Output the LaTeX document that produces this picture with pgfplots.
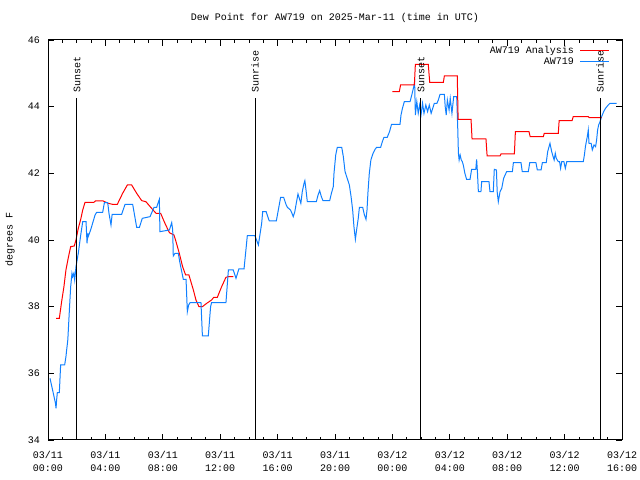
\documentclass[border=0pt]{standalone}
\usepackage{pgfplots}
\pgfplotsset{compat=1.18}
\usepackage{fontspec}
\setmainfont{Liberation Mono}
\definecolor{awred}{RGB}{255,0,0}
\definecolor{awblue}{RGB}{16,128,255}
\newcommand{\gf}{\fontsize{10bp}{13bp}\selectfont}
\begin{document}
\begin{tikzpicture}[x=1bp,y=1bp]
\path[use as bounding box] (0,0) rectangle (640,480);
\begin{axis}[
  at={(48bp,40bp)}, anchor=south west,
  scale only axis, width=574bp, height=400bp,
  xmin=0, xmax=40, ymin=34, ymax=46,
  xtick={0,4,...,40},
  xticklabels={03/11\\00:00,03/11\\04:00,03/11\\08:00,03/11\\12:00,03/11\\16:00,03/11\\20:00,03/12\\00:00,03/12\\04:00,03/12\\08:00,03/12\\12:00,03/12\\16:00},
  minor x tick num=3,
  ytick={34,36,...,46},
  tick align=inside,
  major tick length=6bp, minor tick length=3bp,
  axis line style={line width=1bp},
  every tick/.style={black, line width=0.8bp},
  /pgf/number format/assume math mode=true,
  font=\gf,
  xticklabel style={font=\gf, align=center, anchor=north, inner sep=0pt, yshift=-11bp},
  yticklabel style={font=\gf, anchor=east, inner sep=0pt, xshift=-8bp},
  title={Dew Point for AW719 on 2025-Mar-11 (time in UTC)},
  every axis title shift=0pt,
  title style={font=\gf, at={(axis description cs:0.5,1.055)}, anchor=center},
  ylabel={degrees F},
  ylabel style={font=\gf, at={(axis description cs:-0.066,0.5)}, anchor=center},
  legend style={draw=none, fill=none, font=\gf, at={(axis description cs:0.979,0.99)}, anchor=north east, inner sep=0pt, row sep=-1bp,
    /tikz/every odd column/.append style={column sep=4bp}},
  legend plot pos=right,
  legend cell align=right,
  legend image code/.code={\draw[#1] (0bp,0bp) -- (29bp,0bp);},
]
% Analysis (red), part 1
\addplot[awred, line width=1bp] coordinates {
(0.56,37.65) (0.79,37.65) (0.95,38.15) (1.11,38.6) (1.25,39.1) (1.42,39.48) (1.58,39.8) (1.83,39.82)
(1.95,40.0) (2.11,40.35) (2.28,40.62) (2.42,40.9) (2.58,41.13) (3.2,41.13) (3.3,41.17) (3.85,41.17)
(4.2,41.1) (4.5,41.07) (4.83,41.07) (5.2,41.4) (5.53,41.65) (5.83,41.65) (6.18,41.4) (6.53,41.18)
(6.82,41.15) (7.22,40.95) (7.53,40.8) (7.85,40.8) (8.15,40.5) (8.46,40.22) (8.78,40.15) (8.92,39.95)
(9.15,39.6) (9.38,39.2) (9.59,38.95) (9.82,38.95) (10.13,38.5) (10.31,38.2) (10.52,38.0) (10.76,38.0)
(11.06,38.1) (11.4,38.2) (11.55,38.28) (11.8,38.28) (12.1,38.6) (12.4,38.88) (12.57,38.9) (12.91,38.9)
};
\addlegendentry{AW719 Analysis}
% Observations (blue)
\addplot[awblue, line width=1bp] coordinates {
(0.14,35.85) (0.37,35.4) (0.52,35.1) (0.56,34.95) (0.6,35.2) (0.65,35.42) (0.79,35.42) (0.88,36.25)
(1.16,36.25) (1.25,36.5) (1.3,36.7) (1.38,37.0) (1.49,37.9) (1.58,38.6) (1.67,39.0) (1.72,38.9)
(1.8,39.0) (1.86,38.8) (1.95,39.2) (2.11,39.6) (2.28,40.15) (2.42,40.55) (2.65,40.55) (2.72,39.9)
(2.77,40.2) (2.8,40.1) (2.97,40.3) (3.28,40.75) (3.39,40.83) (3.81,40.83) (3.93,41.12) (4.16,41.12)
(4.25,40.8) (4.39,40.45) (4.47,40.77) (5.13,40.77) (5.37,41.07) (5.9,41.07) (6.18,40.38) (6.37,40.38)
(6.57,40.65) (7.11,40.7) (7.39,40.98) (7.57,40.98) (7.66,41.1) (7.76,41.22) (7.8,40.25) (8.46,40.3)
(8.62,40.52) (8.69,40.3) (8.73,39.52) (8.85,39.6) (9.08,39.6) (9.2,39.3) (9.43,38.82) (9.62,38.82)
(9.71,37.85) (9.8,38.05) (9.9,38.12) (10.66,38.12) (10.76,37.12) (11.17,37.12) (11.33,38.0) (11.4,38.12)
(12.4,38.12) (12.57,39.1) (12.91,39.1) (13.1,38.85) (13.3,39.13) (13.66,39.13) (13.89,40.13) (14.42,40.13)
(14.66,39.85) (14.89,40.5) (14.96,40.85) (15.2,40.85) (15.42,40.57) (15.91,40.57) (16.05,40.9) (16.21,41.28)
(16.42,41.28) (16.6,41.05) (16.68,40.98) (16.9,40.9) (17.0,40.8) (17.09,40.7) (17.2,40.85) (17.3,41.1)
(17.42,41.38) (17.55,41.2) (17.62,41.1) (17.72,41.45) (17.84,41.7) (17.9,41.78) (17.98,41.5) (18.07,41.15)
(18.7,41.15) (18.82,41.35) (18.93,41.48) (19.05,41.3) (19.16,41.18) (19.63,41.18) (19.75,41.4) (19.88,41.6)
(19.93,42.0) (20.05,42.55) (20.16,42.78) (20.47,42.78) (20.58,42.5) (20.7,42.05) (20.85,41.85) (21.0,41.65)
(21.12,41.3) (21.23,40.9) (21.32,40.4) (21.42,40.02) (21.52,40.35) (21.62,40.65) (21.7,40.98) (21.93,40.98)
(22.05,40.75) (22.16,40.62) (22.23,40.9) (22.3,41.45) (22.39,42.0) (22.5,42.4) (22.65,42.6) (22.79,42.72)
(22.9,42.78) (23.18,42.78) (23.3,42.95) (23.41,43.08) (23.64,43.08) (23.8,43.25) (23.94,43.47) (24.53,43.47)
(24.6,43.75) (24.7,43.95) (24.83,44.15) (25.23,44.15) (25.35,44.35) (25.46,44.55) (25.55,44.72) (25.6,43.75)
(25.7,44.15) (25.8,43.8) (25.9,44.05) (26.0,43.77) (26.1,44.1) (26.2,43.8) (26.33,44.05) (26.45,43.85)
(26.57,44.05) (26.7,43.8) (26.92,44.1) (27.1,44.1) (27.2,44.2) (27.32,44.37) (27.62,44.37) (27.68,44.0)
(27.75,43.75) (27.83,44.2) (27.95,43.9) (28.03,44.25) (28.15,43.8) (28.27,44.3) (28.48,44.3) (28.55,43.4)
(28.6,42.6) (28.65,42.4) (28.72,42.55) (28.8,42.4) (28.87,42.35) (28.94,42.25) (29.05,42.0) (29.17,41.82)
(29.41,41.82) (29.52,42.12) (29.81,42.12) (29.87,42.42) (29.93,42.0) (29.99,41.45) (30.17,41.45) (30.22,41.75)
(30.73,41.75) (30.8,41.45) (31.03,41.45) (31.1,42.12) (31.25,42.1) (31.3,41.45) (31.38,41.15) (31.5,41.45)
(31.62,41.55) (31.75,41.85) (31.96,42.05) (32.36,42.05) (32.43,42.32) (32.96,42.32) (33.05,42.05) (33.47,42.05)
(33.57,42.32) (34.0,42.32) (34.1,42.1) (34.36,42.1) (34.45,42.32) (34.72,42.32) (34.82,42.65) (34.98,42.9)
(35.1,42.65) (35.2,42.5) (35.27,42.4) (35.35,42.6) (35.42,42.45) (35.56,42.35) (35.65,42.35) (35.72,42.15)
(35.8,42.35) (35.95,42.35) (36.05,42.15) (36.15,42.35) (36.26,42.35) (37.3,42.35) (37.38,42.55) (37.45,42.8)
(37.58,43.1) (37.65,43.3) (37.7,42.9) (37.85,42.9) (37.93,42.7) (38.05,42.85) (38.16,42.8) (38.23,43.0)
(38.3,43.3) (38.37,43.45) (38.47,43.55) (38.58,43.7) (38.72,43.85) (38.85,43.95) (39.04,44.05) (39.16,44.1)
(39.63,44.1)
};
\addlegendentry{AW719}
% Analysis (red), part 2
\addplot[awred, line width=1bp, forget plot] coordinates {
(23.99,44.45) (24.48,44.45) (24.57,44.65) (25.53,44.65) (25.6,45.27) (26.5,45.27) (26.6,44.73) (27.55,44.73)
(27.62,44.92) (28.52,44.92) (28.58,43.62) (29.48,43.62) (29.55,43.03) (30.52,43.03) (30.6,42.52) (31.5,42.52)
(31.57,42.58) (32.5,42.58) (32.57,43.25) (33.52,43.25) (33.6,43.1) (34.52,43.1) (34.58,43.2) (35.56,43.2)
(35.62,43.58) (36.52,43.58) (36.6,43.7) (37.65,43.7) (37.72,43.67) (38.58,43.67)
};
% Sunset / sunrise markers
\addplot[black, line width=1bp, forget plot] coordinates {(2.02,34) (2.02,44.26)};
\addplot[black, line width=1bp, forget plot] coordinates {(14.43,34) (14.43,44.26)};
\addplot[black, line width=1bp, forget plot] coordinates {(25.99,34) (25.99,44.26)};
\addplot[black, line width=1bp, forget plot] coordinates {(38.47,34) (38.47,44.26)};
\node[rotate=90, anchor=west, inner sep=0pt, font=\gf] at (axis cs:2.02,44.42) {Sunset};
\node[rotate=90, anchor=west, inner sep=0pt, font=\gf] at (axis cs:14.43,44.42) {Sunrise};
\node[rotate=90, anchor=west, inner sep=0pt, font=\gf] at (axis cs:25.99,44.42) {Sunset};
\node[rotate=90, anchor=west, inner sep=0pt, font=\gf] at (axis cs:38.47,44.42) {Sunrise};
\end{axis}
\end{tikzpicture}
\end{document}
